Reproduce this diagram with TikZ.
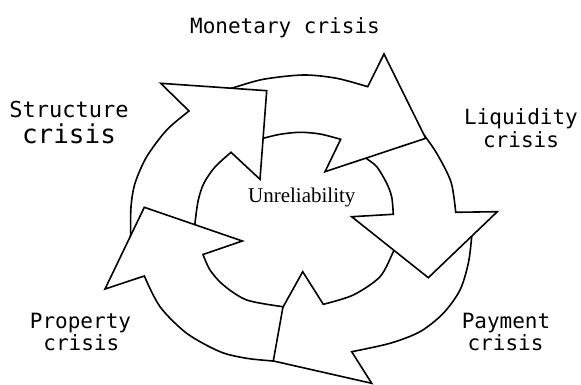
\documentclass[tikz,border=0pt]{standalone}
\usepackage{fontspec}
\setmainfont{Liberation Serif}
\newfontfamily\monofont{DejaVu Sans Mono}
\begin{document}
\begin{tikzpicture}[x=1pt,y=-1pt,
  bentarrow/.style={draw=black, fill=white, line width=1.6pt, line join=miter},
  lbl/.style={font=\monofont\fontsize{21}{25}\selectfont, inner sep=0pt, anchor=base},
]
\useasboundingbox (0,0) rectangle (581,385);

% bottom arrow (right side down to the bottom)
\draw[bentarrow] plot[smooth] coordinates {(472,224) (471.7,236.7) (468.3,263.3) (460,290) (443.3,313.3) (420,331.7) (390,343.3) (351.7,351.7)}
  -- (371.7,383.3) -- (255.4,356.9) -- (302.7,271.7)
  -- plot[smooth] coordinates {(323.3,304.3) (353.3,295) (380,276.7) (393.3,251.7) (398,240)} -- cycle;

% right arrow
\draw[bentarrow] plot[smooth] coordinates {(415,123) (421.7,131.7) (436.7,153.3) (451,182) (455.7,212.3)}
  -- (497.3,211.7) -- (428.3,277.7) -- (351.7,216.7)
  -- plot[smooth] coordinates {(393.3,214.3) (391.7,197) (386.7,183.3) (376.7,166.7) (365,157.3) (358,150)} -- cycle;

% top arrow
\draw[bentarrow] plot[smooth] coordinates {(215,93) (233.3,87.7) (263.3,79.3) (303.3,75) (336.7,78.3) (367.7,86.7)}
  -- (384,54) -- (425.7,138.3) -- (325,171.7)
  -- plot[smooth] coordinates {(340.7,139.3) (320,134) (300,132.3) (280,134.3) (263.3,138.3) (252,142)} -- cycle;

% left arrow (up to the top left)
\draw[bentarrow] plot[smooth] coordinates {(131,246) (130.7,233.3) (131,206.7) (135,183.3) (146.7,156.7) (166.7,130) (189,111)}
  -- (160.7,83.3) -- (266.7,90.7) -- (260,179.3)
  -- plot[smooth] coordinates {(231,152.3) (215,167) (204,183) (198.3,200) (195,223) (194,236)} -- cycle;

% lower left arrow, its tail lying over the bottom arrow's head
\draw[bentarrow] plot[smooth] coordinates {(273.3,361) (246.7,358.3) (220,351.7) (186.7,333.3) (160,306.7) (144.3,276)}
  -- (105,289) -- (144.3,207.3) -- (242.3,241)
  -- plot[smooth] coordinates {(203,254.5) (210,270) (223.3,285) (246.7,300) (283,306.7)} -- cycle;

% labels
\node[font=\fontsize{21}{25}\selectfont, inner sep=0pt, anchor=base] (unrel) at (301.8,202) {Unreliability};
\node[lbl] (monetary) at (285,33.3) {Monetary crisis};
\node[lbl] (liquidity) at (521,125) {Liquidity};
\node[lbl] (liquidityc) at (521,148) {crisis};
\node[lbl] (payment) at (506,328.3) {Payment};
\node[lbl] (paymentc) at (505.5,350) {crisis};
\node[lbl] (property) at (80.5,328.3) {Property};
\node[lbl] (propertyc) at (81.3,350) {crisis};
\node[lbl, font=\monofont\fontsize{22}{26}\selectfont] (structure) at (69,117.3) {Structure};
\node[lbl, font=\monofont\fontsize{26}{30}\selectfont] (structurec) at (69,143.3) {crisis};
\end{tikzpicture}
\end{document}
